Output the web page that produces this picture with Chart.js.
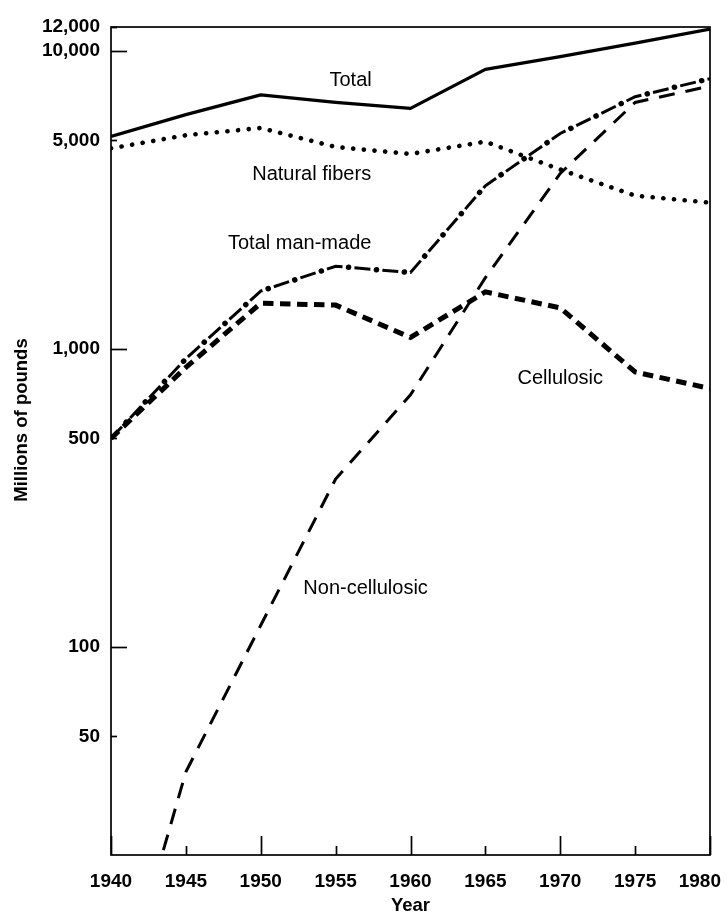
<!DOCTYPE html>
<html>
<head>
<meta charset="utf-8">
<title>Fiber consumption, 1940-1980</title>
<script src="https://cdn.jsdelivr.net/npm/chart.js@4.4.1/dist/chart.umd.min.js"></script>
<style>
  html, body { margin: 0; padding: 0; background: #fff; }
  #wrap { width: 726px; height: 921px; }
</style>
</head>
<body>
<div id="wrap"><canvas id="fibers" width="726" height="921"></canvas></div>
<script>
// Years on the horizontal axis
const years = [1940, 1945, 1950, 1955, 1960, 1965, 1970, 1975, 1980];

// Fiber consumption, millions of pounds
const totalFibers      = [5150, 6100, 7100, 6700, 6400, 8650, 9550, 10600, 11800];
const naturalFibers    = [4700, 5200, 5500, 4750, 4500, 4950, 3990, 3260, 3090];
const manMadeFibers    = [500, 925, 1560, 1890, 1800, 3520, 5270, 7000, 8050];
const cellulosicFibers = [500, 865, 1420, 1400, 1090, 1550, 1370, 835, 735];

// Non-cellulosic output begins during the war; its first value sits below the axis floor
const nonCellulosicYears  = [1943, 1945, 1950, 1955, 1960, 1965, 1970, 1975, 1980];
const nonCellulosicFibers = [17, 38, 118, 365, 700, 1730, 3870, 6700, 7600];

// Axis ticks
const xTickYears  = [1940, 1945, 1950, 1955, 1960, 1965, 1970, 1975, 1980];
const yTickValues = [50, 100, 500, 1000, 5000, 10000, 12000];
const yTickLabels = ['50', '100', '500', '1,000', '5,000', '10,000', '12,000'];

// Names written beside the curves
const seriesNames = ['Total', 'Natural fibers', 'Total man-made', 'Cellulosic', 'Non-cellulosic'];

// ---------------------------------------------------------------------------
const FONT = '"Liberation Sans", Arial, sans-serif';

// Where each name sits, in (year, millions of pounds)
const nameAnchors = [
  [1956.0, 7930],
  [1953.4, 3840],
  [1952.6, 2250],
  [1970.0, 795],
  [1957.0, 157]
];

const toPoints = (xs, ys) => xs.map((x, i) => ({ x: x, y: ys[i] }));

const lineBase = {
  pointRadius: 0,
  pointHoverRadius: 0,
  fill: false,
  tension: 0,
  borderColor: '#000',
  backgroundColor: '#000'
};

// Frame, inward tick marks, year labels, axis title and curve names
const framePlugin = {
  id: 'frame',
  afterDraw(chart) {
    const { ctx, chartArea: a, scales: { x, y } } = chart;
    ctx.save();
    ctx.strokeStyle = '#000';
    ctx.fillStyle = '#000';
    ctx.lineWidth = 1.7;
    ctx.strokeRect(a.left, a.top, a.right - a.left, a.bottom - a.top);

    // value ticks point into the plot; decades get the long mark
    yTickValues.forEach(v => {
      const py = Math.round(y.getPixelForValue(v)) + 0.5;
      const len = Number.isInteger(Math.log10(v)) ? 16 : 6;
      ctx.beginPath();
      ctx.moveTo(a.left, py);
      ctx.lineTo(a.left + len, py);
      ctx.stroke();
    });

    // year ticks rise from the base line; decades are taller
    xTickYears.forEach(yr => {
      const px = Math.round(x.getPixelForValue(yr)) + 0.5;
      const len = yr % 10 === 0 ? 19 : 9;
      ctx.beginPath();
      ctx.moveTo(px, a.bottom);
      ctx.lineTo(px, a.bottom - len);
      ctx.stroke();
    });

    // year labels, kept inside the canvas at the right edge
    ctx.font = 'bold 19px ' + FONT;
    ctx.textAlign = 'center';
    ctx.textBaseline = 'alphabetic';
    xTickYears.forEach(yr => {
      const label = String(yr);
      const w = ctx.measureText(label).width;
      const px = Math.min(x.getPixelForValue(yr), chart.width - 5 - w / 2);
      ctx.fillText(label, px, a.bottom + 32);
    });

    // vertical axis title
    ctx.save();
    ctx.translate(27, 420);
    ctx.rotate(-Math.PI / 2);
    ctx.font = 'bold 18.5px ' + FONT;
    ctx.textAlign = 'center';
    ctx.textBaseline = 'alphabetic';
    ctx.fillText('Millions of pounds', 0, 0);
    ctx.restore();

    // curve names
    ctx.font = '20px ' + FONT;
    ctx.textAlign = 'center';
    ctx.textBaseline = 'middle';
    seriesNames.forEach((name, i) => {
      const [yr, v] = nameAnchors[i];
      ctx.fillText(name, x.getPixelForValue(yr), y.getPixelForValue(v));
    });
    ctx.restore();
  }
};

new Chart(document.getElementById('fibers'), {
  type: 'line',
  data: {
    datasets: [
      { ...lineBase, label: 'Total', data: toPoints(years, totalFibers),
        borderWidth: 3.3, borderJoinStyle: 'round' },
      { ...lineBase, label: 'Natural fibers', data: toPoints(years, naturalFibers),
        borderWidth: 4.6, borderDash: [0.1, 10.6], borderCapStyle: 'round' },
      // dash-dot pattern: a dashed stroke plus a dotted stroke in its gaps
      { ...lineBase, label: 'Total man-made', data: toPoints(years, manMadeFibers),
        borderWidth: 3, borderDash: [16, 12] },
      { ...lineBase, label: 'Total man-made dots', data: toPoints(years, manMadeFibers),
        borderWidth: 5.5, borderDash: [0.1, 27.9], borderDashOffset: 6, borderCapStyle: 'round' },
      { ...lineBase, label: 'Cellulosic', data: toPoints(years, cellulosicFibers),
        borderWidth: 5, borderDash: [10.5, 6.5] },
      { ...lineBase, label: 'Non-cellulosic', data: toPoints(nonCellulosicYears, nonCellulosicFibers),
        borderWidth: 3, borderDash: [16, 11] }
    ]
  },
  options: {
    responsive: false,
    animation: false,
    events: [],
    layout: { padding: { top: 27, right: 16, bottom: 0, left: 0 } },
    plugins: {
      legend: { display: false },
      tooltip: { enabled: false }
    },
    scales: {
      x: {
        type: 'linear',
        min: 1940,
        max: 1980,
        bounds: 'data',
        grid: { display: false, drawTicks: false },
        border: { display: false },
        ticks: { display: false, stepSize: 5 },
        title: {
          display: true,
          text: 'Year',
          color: '#000',
          font: { family: FONT, size: 18.5, weight: 'bold' },
          padding: { top: 0, bottom: 4 }
        },
        afterFit: s => { s.height = 66; }
      },
      y: {
        type: 'logarithmic',
        min: 20,
        max: 12000,
        bounds: 'data',
        grid: { display: false, drawTicks: false },
        border: { display: false },
        afterBuildTicks: s => { s.ticks = yTickValues.map(v => ({ value: v })); },
        ticks: {
          autoSkip: false,
          padding: 11,
          color: '#000',
          font: { family: FONT, size: 19, weight: 'bold' },
          callback: (v, i) => yTickLabels[i]
        },
        afterFit: s => { s.width = 111; }
      }
    }
  },
  plugins: [framePlugin]
});
</script>
</body>
</html>
